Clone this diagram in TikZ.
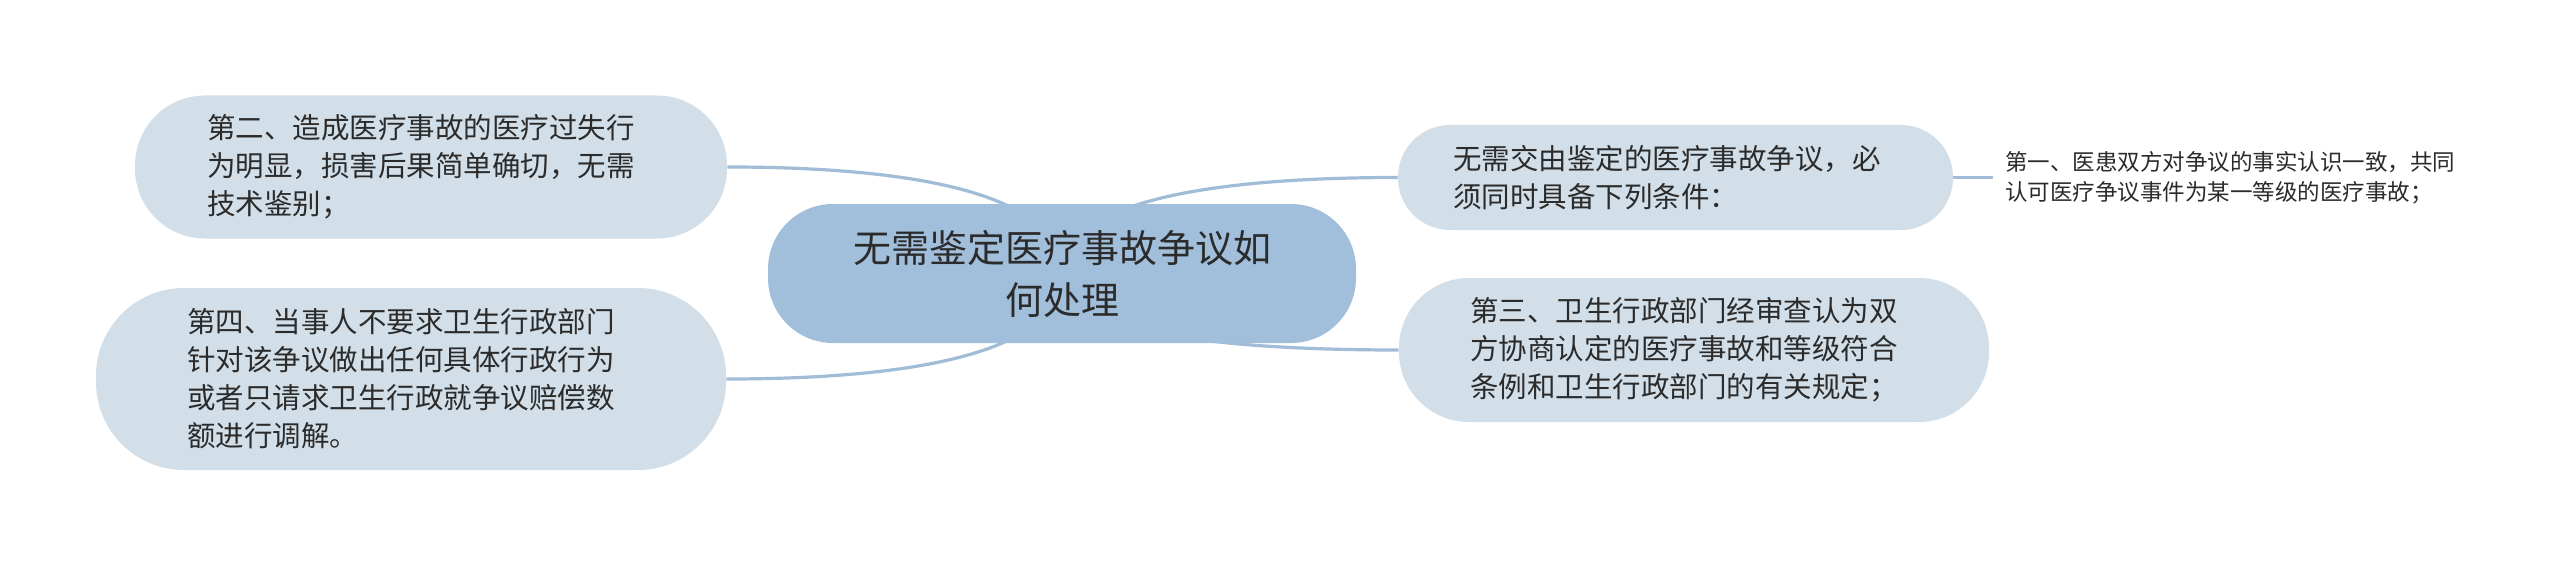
\documentclass[tikz,border=0pt]{standalone}
\usepackage{fontspec}
\newfontfamily\cjk{Noto Sans CJK SC}
\usetikzlibrary{calc}
\definecolor{centfill}{HTML}{A1BFDB}
\definecolor{boxfill}{HTML}{D3DFE8}
\definecolor{linec}{HTML}{A0BCD6}
\definecolor{txt}{HTML}{2B2B2B}
\pgfdeclarelayer{bg}
\pgfsetlayers{bg,main}
\begin{document}
\begin{tikzpicture}[x=0.5pt,y=-0.5pt,
  box/.style={fill=boxfill, draw=none, align=left, text=txt, inner sep=0pt,
    font=\cjk\fontsize{14.25pt}{19pt}\selectfont},
  central/.style={fill=centfill, draw=none, align=center, text=txt, inner sep=0pt,
    font=\cjk\fontsize{19pt}{26pt}\selectfont},
  conn/.style={draw=linec, line width=1.6pt},
  leaf/.style={align=left, text=txt, inner xsep=6pt, inner ysep=0pt, anchor=west,
    font=\cjk\fontsize{11.25pt}{15pt}\selectfont}]
\useasboundingbox (0,0) rectangle (2560,567);

\node[central, minimum width=294pt, minimum height=69.5pt, text width=215pt, rounded corners=32.5pt]
  (c) at (1062,273.5) {无需鉴定医疗事故争议如\\何处理};

\node[box, minimum width=296pt, minimum height=71.5pt, text width=224pt, rounded corners=35pt]
  (n2) at (431,167) {第二、造成医疗事故的医疗过失行\\为明显，损害后果简单确切，无需\\技术鉴别；};

\node[box, minimum width=315pt, minimum height=91pt, text width=224pt, rounded corners=44pt]
  (n4) at (411,379) {第四、当事人不要求卫生行政部门\\针对该争议做出任何具体行政行为\\或者只请求卫生行政就争议赔偿数\\额进行调解。};

\node[box, minimum width=277.5pt, minimum height=52.5pt, text width=222.5pt, rounded corners=26pt]
  (n1) at (1675.5,177.5) {无需交由鉴定的医疗事故争议，必\\须同时具备下列条件：};

\node[box, minimum width=295pt, minimum height=72pt, text width=224pt, rounded corners=35pt]
  (n3) at (1694,350) {第三、卫生行政部门经审查认为双\\方协商认定的医疗事故和等级符合\\条例和卫生行政部门的有关规定；};

\node[leaf] (l1) at (1993,177.5) {第一、医患双方对争议的事实认识一致，共同\\认可医疗争议事件为某一等级的医疗事故；};

\begin{pgfonlayer}{bg}
\fill[white] (0,0) rectangle (2560,567);
\draw[conn] let \p1=(n2.east), \p2=(c.center) in
  (n2.east) .. controls ({0.5*\x1+0.5*\x2},\y1) and (\x2,{0.8*\y1+0.2*\y2}) .. (c.center);
\draw[conn] let \p1=(n4.east), \p2=(c.center) in
  (n4.east) .. controls ({0.5*\x1+0.5*\x2},\y1) and (\x2,{0.8*\y1+0.2*\y2}) .. (c.center);
\draw[conn] let \p1=(n1.west), \p2=(c.center) in
  (n1.west) .. controls ({0.5*\x1+0.5*\x2},\y1) and (\x2,{0.8*\y1+0.2*\y2}) .. (c.center);
\draw[conn] let \p1=(n3.west), \p2=(c.center) in
  (n3.west) .. controls ({0.5*\x1+0.5*\x2},\y1) and (\x2,{0.8*\y1+0.2*\y2}) .. (c.center);
\draw[conn] (n1.east) -- (l1.west);
\end{pgfonlayer}
\end{tikzpicture}
\end{document}
